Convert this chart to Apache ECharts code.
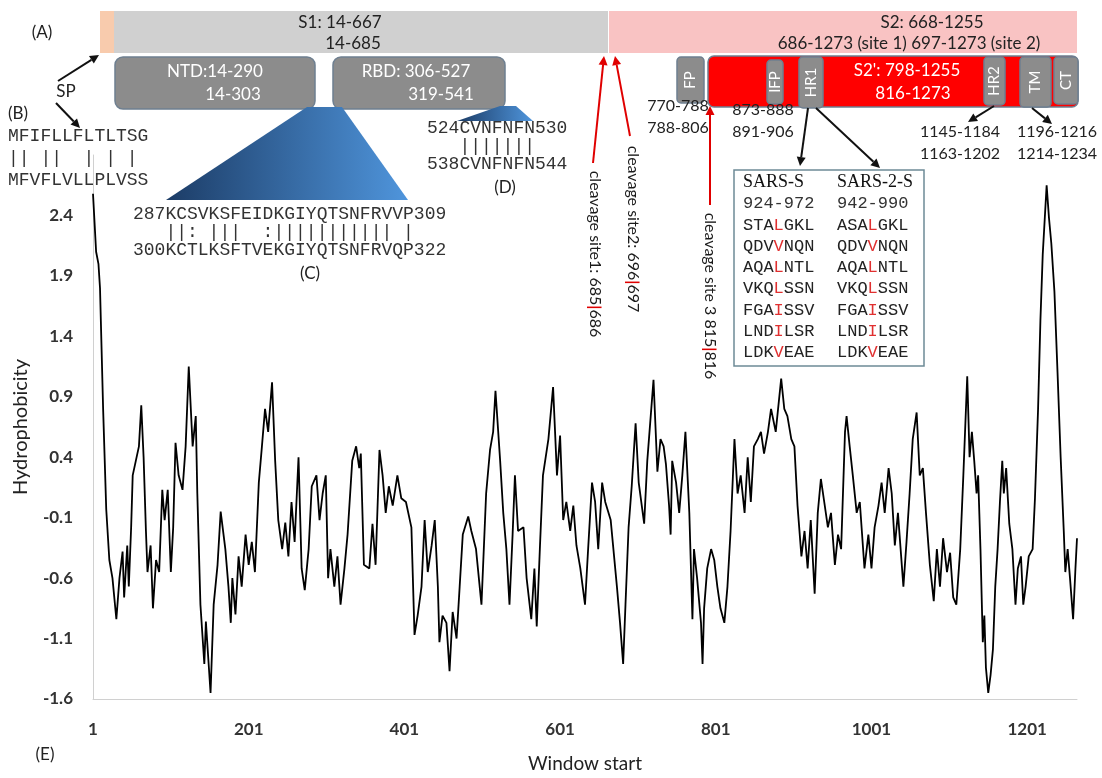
<!DOCTYPE html>
<html>
<head>
<meta charset="utf-8">
<script src="https://cdn.jsdelivr.net/npm/echarts/dist/echarts.min.js"></script>
<style>
  html, body { margin: 0; padding: 0; background: #fff; }
  #chart { width: 1102px; height: 778px; }
</style>
</head>
<body>
<div id="chart"></div>
<script>
// window start positions and hydrophobicity values
const winStart = [1, 5, 8, 10, 14, 18, 22, 26, 31, 35, 39, 41, 45, 47, 50, 52, 56, 60, 63, 66, 69, 71, 75, 78, 82, 86, 90, 93, 97, 101, 104, 107, 111, 116, 120, 124, 129, 133, 135, 139, 144, 146, 152, 156, 161, 165, 171, 175, 178, 180, 184, 188, 192, 197, 201, 205, 209, 214, 218, 222, 226, 231, 235, 239, 244, 248, 252, 256, 260, 265, 269, 273, 278, 282, 288, 292, 296,
  300, 303, 306, 311, 315, 319, 324, 328, 334, 339, 343, 345, 349, 356, 360, 364, 369, 373, 377, 381, 386, 392, 397, 403, 410, 414, 418, 423, 427, 431, 436, 440, 444, 446, 450, 455, 459, 463, 468, 472, 476, 483, 487, 493, 500, 506, 511, 515, 518, 524, 528, 532, 536, 540, 543, 547, 554, 558, 564, 568, 571, 575, 579, 586, 592, 597,
  601, 605, 609, 614, 618, 622, 627, 633, 637, 642, 646, 650, 655, 659, 666, 674, 678, 682, 685, 689, 693, 698, 702, 709, 713, 721, 726, 730, 734, 737, 741, 743, 745, 750, 754, 758, 762, 767, 771, 773, 777, 782, 784, 786, 790, 795, 799,
  803, 807, 812, 816, 820, 825, 829, 833, 838, 842, 846, 850, 855, 859, 863, 868, 872, 878, 885, 889, 893, 898, 902, 906, 911, 915, 919, 923, 928, 932, 936, 941, 945, 949, 954, 958, 962, 967, 969, 973, 977, 982, 986, 992, 997,
  1001, 1005, 1010, 1014, 1018, 1023, 1027, 1031, 1035, 1042, 1046, 1050, 1054, 1059, 1063, 1067, 1071, 1076, 1081, 1085, 1089, 1093, 1098, 1102, 1106, 1110, 1115, 1119, 1124, 1127, 1130, 1133, 1136, 1138, 1141, 1144, 1146, 1148, 1151, 1154, 1157, 1160, 1163, 1166, 1169, 1171, 1174, 1178, 1182, 1186, 1189, 1193, 1196, 1199,
  1203, 1208, 1211, 1215, 1218, 1221, 1226, 1229, 1232, 1236, 1240, 1244, 1248, 1250, 1253, 1256, 1260, 1263, 1265];
const hydro = [2.58, 2.1, 2.0, 1.8, 0.8, -0.03, -0.45, -0.6, -0.94, -0.6, -0.38, -0.76, -0.33, -0.67, -0.18, 0.25, 0.37, 0.49, 0.83, 0.4, -0.21, -0.55, -0.33, -0.85, -0.45, -0.55, 0.13, -0.12, 0.13, -0.55, -0.18, 0.52, 0.25, 0.13, 0.49, 1.15, 0.49, 0.74, 0.1, -0.82, -1.31, -0.96, -1.55, -0.82, -0.49, -0.05, -0.36, -0.67, -0.97, -0.6, -0.9, -0.42, -0.67, -0.24, -0.49, -0.3, -0.55, 0.19, 0.49, 0.8, 0.61, 1.02, 0.37, -0.12, -0.36, -0.14, -0.42, 0.03, -0.3, 0.4, -0.52, -0.7, -0.36, 0.16, 0.25, -0.12, 0.1,
  0.25, -0.6, -0.36, -0.67, -0.42, -0.82, -0.52, -0.24, 0.37, 0.49, 0.31, 0.43, -0.49, -0.52, -0.15, -0.49, 0.46, 0.25, -0.06, 0.16, 0.0, 0.25, 0.06, 0.03, -0.18, -1.07, -0.91, -0.67, -0.12, -0.55, -0.33, -0.12, -0.67, -1.13, -0.91, -0.97, -1.37, -0.88, -1.1, -0.67, -0.24, -0.09, -0.21, -0.36, -0.82, 0.1, 0.46, 0.61, 0.95, 0.37, -0.06, -0.36, -0.82, -0.24, 0.25, -0.21, -0.18, -0.6, -0.94, -0.52, -1.0, -0.36, 0.25, 0.55, 0.98, 0.25,
  0.58, -0.12, 0.03, -0.21, 0.0, -0.33, -0.52, -0.82, -0.36, 0.19, 0.03, -0.36, 0.19, 0.03, -0.12, -0.67, -0.97, -1.31, -0.82, -0.18, 0.16, 0.68, 0.19, -0.15, 0.37, 1.04, 0.28, 0.55, 0.49, 0.34, 0.0, -0.24, 0.37, 0.19, -0.06, 0.25, 0.61, -0.06, -0.94, -0.36, -0.6, -0.97, -1.31, -0.85, -0.52, -0.36, -0.45,
  -0.67, -0.85, -0.97, -0.67, -0.21, 0.55, 0.1, 0.25, -0.06, 0.4, 0.03, 0.49, 0.55, 0.61, 0.43, 0.61, 0.8, 0.61, 1.05, 0.8, 0.74, 0.55, 0.49, 0.0, -0.42, -0.21, -0.52, -0.12, -0.73, -0.06, 0.22, 0.0, -0.18, -0.06, -0.49, -0.24, -0.36, 0.61, 0.74, 0.49, 0.25, -0.06, 0.03, -0.52, -0.24,
  -0.52, -0.18, 0.0, 0.19, -0.06, 0.31, 0.1, -0.33, -0.06, -0.67, -0.3, 0.1, 0.55, 0.77, 0.25, 0.31, -0.06, -0.49, -0.79, -0.36, -0.67, -0.27, -0.55, -0.39, -0.76, -0.82, -0.36, 0.25, 1.07, 0.4, 0.61, 0.37, 0.1, 0.25, -0.36, -1.13, -0.91, -1.34, -1.55, -1.4, -1.19, -0.67, -0.36, 0.03, 0.37, 0.1, 0.31, -0.15, -0.36, -0.82, -0.52, -0.42, -0.82, -0.67,
  -0.42, -0.36, 0.06, 0.8, 1.53, 2.08, 2.65, 2.38, 2.17, 1.77, 1.1, 0.4, -0.21, -0.55, -0.36, -0.6, -0.94, -0.52, -0.27];

const xTicks = { min: 1, max: 1265, step: 200 };
const yTicks = { min: -1.6, max: 2.9, step: 0.5 };

// sequence alignments shown as insets
const spSeq = ['MFIFLLFLTLTSG', '|| ||  | | |', 'MFVFLVLLPLVSS'];
const ntdSeq = ['287KCSVKSFEIDKGIYQTSNFRVVP309', '   ||: |||  :||||||||||| |', '300KCTLKSFTVEKGIYQTSNFRVQP322'];
const rbdSeq = ['524CVNFNFN530', '   |||||||', '538CVNFNFN544'];
const hrHead = ['SARS-S', 'SARS-2-S'];
const hrRange = ['924-972', '942-990'];
const hrSars = ['STALGKL', 'QDVVNQN', 'AQALNTL', 'VKQLSSN', 'FGAISSV', 'LNDILSR', 'LDKVEAE'];
const hrSars2 = ['ASALGKL', 'QDVVNQN', 'AQALNTL', 'VKQLSSN', 'FGAISSV', 'LNDILSR', 'LDKVEAE'];

const SANS = 'Lato, "Open Sans", sans-serif';
const MONO = '"Liberation Mono", "DejaVu Sans Mono", monospace';
const SERIF = '"Liberation Serif", serif';

function rect(x, y, w, h, fill, stroke, r) {
  return {
    type: 'rect',
    shape: { x: x, y: y, width: w, height: h, r: r || 0 },
    style: { fill: fill, stroke: stroke || null, lineWidth: stroke ? 1.5 : 0 }
  };
}

function txt(x, y, text, font, color, align, rot, rich) {
  return {
    type: 'text',
    x: x, y: y,
    rotation: rot || 0,
    style: {
      text: text, font: font, fill: color || '#222',
      align: align || 'center', verticalAlign: 'middle',
      rich: rich
    }
  };
}

function arrow(x1, y1, x2, y2, color) {
  const a = Math.atan2(y2 - y1, x2 - x1);
  const L = 9, W = 4.5;
  const bx = x2 - L * Math.cos(a), by = y2 - L * Math.sin(a);
  return [
    { type: 'line', shape: { x1: x1, y1: y1, x2: bx, y2: by }, style: { stroke: color, lineWidth: 2 } },
    { type: 'polygon', shape: { points: [[x2, y2], [bx + W * Math.sin(a), by - W * Math.cos(a)], [bx - W * Math.sin(a), by + W * Math.cos(a)]] }, style: { fill: color } }
  ];
}

function vbox(x, y, w, h, label) {
  return [
    rect(x, y, w, h, '#8c8c8c', '#6e7f90', 4),
    txt(x + w / 2, y + h / 2, label, '15px ' + SANS, '#fff', 'center', Math.PI / 2)
  ];
}

function redMid(s) {
  return '{n|' + s.slice(0, 3) + '}{r|' + s[3] + '}{n|' + s.slice(4) + '}';
}

const blueGrad = () => new echarts.graphic.LinearGradient(0, 0, 1, 0, [
  { offset: 0, color: '#1c3c66' }, { offset: 1, color: '#4f95dc' }
]);

let g = [];
// (A) domain bar
g.push(txt(42, 33, '(A)', '17px ' + SANS));
g.push(rect(100, 11, 14, 42, '#f8cbad'));
g.push(rect(114, 11, 494, 42, '#d0d0d0'));
g.push(rect(609, 11, 468, 42, '#f9c3c3'));
g.push(txt(340, 23, 'S1: 14-667', '17px ' + SANS));
g.push(txt(353, 44, '14-685', '17px ' + SANS));
g.push(txt(932, 23, 'S2: 668-1255', '17px ' + SANS));
g.push(txt(909, 44, '686-1273 (site 1) 697-1273 (site 2)', '17px ' + SANS));

g.push(rect(115, 57, 200, 52, '#8c8c8c', '#6e7f90', 8));
g.push(txt(215, 72, 'NTD:14-290', '17px ' + SANS, '#fff'));
g.push(txt(233, 95, '14-303', '17px ' + SANS, '#fff'));
g.push(rect(333, 57, 172, 52, '#8c8c8c', '#6e7f90', 8));
g.push(txt(416, 72, 'RBD: 306-527', '17px ' + SANS, '#fff'));
g.push(txt(441, 95, '319-541', '17px ' + SANS, '#fff'));

g = g.concat(vbox(677, 57, 27, 46, 'FP'));
g.push(rect(708, 56, 370, 51, '#ff0000', '#6e7f90', 6));
g = g.concat(vbox(767, 60, 16, 44, 'IFP'));
g = g.concat(vbox(799, 57, 24, 51, 'HR1'));
g = g.concat(vbox(984, 57, 21, 48, 'HR2'));
g = g.concat(vbox(1020, 57, 31, 50, 'TM'));
g = g.concat(vbox(1054, 57, 24, 47, 'CT'));
g.push(txt(907, 71, "S2': 798-1255", '17px ' + SANS, '#fff'));
g.push(txt(913, 94, '816-1273', '17px ' + SANS, '#fff'));

// labels under S2
g.push(txt(678, 106, '770-788', '16px ' + SANS));
g.push(txt(678, 128, '788-806', '16px ' + SANS));
g.push(txt(763, 110, '873-888', '16px ' + SANS));
g.push(txt(763, 132, '891-906', '16px ' + SANS));
g.push(txt(960, 132, '1145-1184', '16px ' + SANS));
g.push(txt(960, 154, '1163-1202', '16px ' + SANS));
g.push(txt(1057, 132, '1196-1216', '16px ' + SANS));
g.push(txt(1057, 154, '1214-1234', '16px ' + SANS));
g = g.concat(arrow(808, 108, 800, 166, '#111'));
g = g.concat(arrow(816, 108, 880, 168, '#111'));
g = g.concat(arrow(994, 106, 968, 122, '#111'));
g = g.concat(arrow(1032, 108, 1052, 124, '#111'));

// cleavage sites
const cleaveRich = { n: { font: '16px ' + SANS, fill: '#1a1a1a' }, r: { font: 'bold 16px ' + SANS, fill: '#e00000' } };
g = g.concat(arrow(593, 163, 604, 56, '#e00000'));
g = g.concat(arrow(630, 136, 615, 56, '#e00000'));
g = g.concat(arrow(710, 205, 710, 106, '#e00000'));
g.push(txt(595, 254, '{n|cleavage site1: 685}{r||}{n|686}', '16px ' + SANS, '#222', 'center', -Math.PI / 2, cleaveRich));
g.push(txt(633, 229, '{n|cleavage site2: 696}{r||}{n|697}', '16px ' + SANS, '#222', 'center', -Math.PI / 2, cleaveRich));
g.push(txt(710, 296, '{n|cleavage site 3 815}{r||}{n|816}', '16px ' + SANS, '#222', 'center', -Math.PI / 2, cleaveRich));

// (B) signal peptide
g.push(txt(66, 92, 'SP', '17px ' + SANS));
g = g.concat(arrow(58, 81, 99, 55, '#111'));
g = g.concat(arrow(56, 103, 80, 128, '#111'));
g.push(txt(8, 114, '(B)', '17px ' + SANS, '#222', 'left'));
spSeq.forEach((s, i) => g.push(txt(8, 136 + i * 22, s, '18px ' + MONO, '#333', 'left')));

// (C) NTD alignment
g.push({ type: 'polygon', shape: { points: [[307, 107], [342, 107], [408, 200], [166, 200]] }, style: { fill: blueGrad() } });
ntdSeq.forEach((s, i) => g.push(txt(133, 214 + i * 18, s, '18px ' + MONO, '#333', 'left')));
g.push(txt(310, 274, '(C)', '17px ' + SANS));

// (D) RBD alignment
g.push({ type: 'polygon', shape: { points: [[500, 106], [516, 106], [533, 121], [457, 121]] }, style: { fill: blueGrad() } });
rbdSeq.forEach((s, i) => g.push(txt(427, 128 + i * 18, s, '18px ' + MONO, '#333', 'left')));
g.push(txt(505, 188, '(D)', '17px ' + SANS));

// HR1 inset
g.push({ type: 'rect', shape: { x: 734, y: 170, width: 190, height: 196 }, style: { fill: '#fff', stroke: '#6d8a96', lineWidth: 1.5 } });
const hrRich = { n: { font: '17px ' + MONO, fill: '#222' }, r: { font: '17px ' + MONO, fill: '#e03030' } };
g.push(txt(743, 182, hrHead[0], '18px ' + SERIF, '#111', 'left'));
g.push(txt(837, 182, hrHead[1], '18px ' + SERIF, '#111', 'left'));
g.push(txt(743, 203, hrRange[0], '17px ' + MONO, '#333', 'left'));
g.push(txt(837, 203, hrRange[1], '17px ' + MONO, '#333', 'left'));
hrSars.forEach((s, i) => g.push(txt(743, 225 + i * 21.3, redMid(s), '17px ' + MONO, '#222', 'left', 0, hrRich)));
hrSars2.forEach((s, i) => g.push(txt(837, 225 + i * 21.3, redMid(s), '17px ' + MONO, '#222', 'left', 0, hrRich)));

// (E)
g.push(txt(45, 755, '(E)', '17px ' + SANS));

const chart = echarts.init(document.getElementById('chart'));
chart.setOption({
  animation: false,
  grid: { left: 93, right: 25, top: 155, bottom: 72 },
  xAxis: {
    type: 'value', min: xTicks.min, max: xTicks.max, interval: xTicks.step,
    name: 'Window start', nameLocation: 'middle', nameGap: 55,
    nameTextStyle: { fontFamily: SANS, fontSize: 19, color: '#222' },
    axisLine: { onZero: false, lineStyle: { color: '#d0d0d0' } },
    axisTick: { show: false },
    splitLine: { show: false },
    axisLabel: {
      fontFamily: SANS, fontSize: 17, fontWeight: 'bold', color: '#333', margin: 22, showMaxLabel: false,
      formatter: v => String(v)
    }
  },
  yAxis: {
    type: 'value', min: yTicks.min, max: yTicks.max, interval: yTicks.step,
    name: 'Hydrophobicity', nameLocation: 'middle', nameGap: 62,
    nameTextStyle: { fontFamily: SANS, fontSize: 20, color: '#222' },
    axisLine: { show: true, onZero: false, lineStyle: { color: '#d0d0d0' } },
    axisTick: { show: false },
    splitLine: { show: false },
    axisLabel: {
      fontFamily: SANS, fontSize: 17, fontWeight: 'bold', color: '#333', margin: 20,
      formatter: v => (v > 2.5 ? '' : v.toFixed(1))
    }
  },
  series: [{
    type: 'line', symbol: 'none',
    lineStyle: { color: '#000', width: 1.8 },
    data: winStart.map((w, i) => [w, hydro[i]])
  }],
  graphic: g
});
</script>
</body>
</html>
